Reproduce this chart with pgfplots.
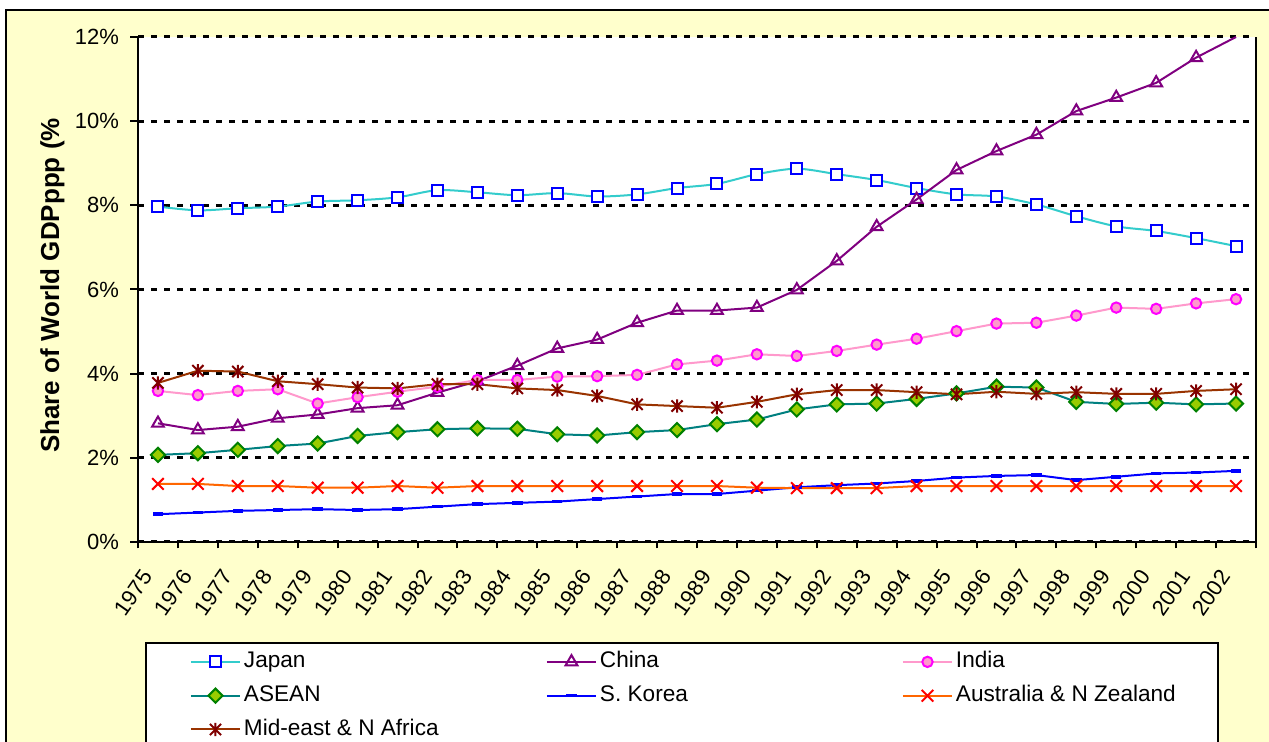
\documentclass[border=0pt]{standalone}
\usepackage{pgfplots}
\pgfplotsset{compat=1.18}
\usepackage{pgfplotstable}
\usepackage{fontspec}
\setmainfont{Liberation Sans}
\definecolor{bgy}{HTML}{FFFFCC}
\definecolor{jpline}{HTML}{33CCCC}
\definecolor{jpmark}{HTML}{0000FF}
\definecolor{cncol}{HTML}{800080}
\definecolor{inline}{HTML}{FF99CC}
\definecolor{inmark}{HTML}{FF00FF}
\definecolor{asline}{HTML}{008080}
\definecolor{asfill}{HTML}{99CC00}
\definecolor{asdraw}{HTML}{008000}
\definecolor{krcol}{HTML}{0000FF}
\definecolor{auline}{HTML}{FF6600}
\definecolor{aumark}{HTML}{FF0000}
\definecolor{meline}{HTML}{993300}
\definecolor{memark}{HTML}{800000}

\pgfdeclareplotmark{xstar}{%
  \pgfpathmoveto{\pgfqpoint{0pt}{\pgfplotmarksize}}%
  \pgfpathlineto{\pgfqpoint{0pt}{-\pgfplotmarksize}}%
  \pgfpathmoveto{\pgfqpoint{-0.85\pgfplotmarksize}{0.85\pgfplotmarksize}}%
  \pgfpathlineto{\pgfqpoint{0.85\pgfplotmarksize}{-0.85\pgfplotmarksize}}%
  \pgfpathmoveto{\pgfqpoint{-0.85\pgfplotmarksize}{-0.85\pgfplotmarksize}}%
  \pgfpathlineto{\pgfqpoint{0.85\pgfplotmarksize}{0.85\pgfplotmarksize}}%
  \pgfusepathqstroke}
\pgfdeclareplotmark{bigx}{%
  \pgfpathmoveto{\pgfqpoint{-\pgfplotmarksize}{\pgfplotmarksize}}%
  \pgfpathlineto{\pgfqpoint{\pgfplotmarksize}{-\pgfplotmarksize}}%
  \pgfpathmoveto{\pgfqpoint{-\pgfplotmarksize}{-\pgfplotmarksize}}%
  \pgfpathlineto{\pgfqpoint{\pgfplotmarksize}{\pgfplotmarksize}}%
  \pgfusepathqstroke}

\pgfplotstableread{
x jp cn in as kr au me
0 7.97 2.82 3.59 2.07 0.66 1.38 3.78
1 7.88 2.66 3.49 2.11 0.70 1.38 4.07
2 7.93 2.74 3.59 2.19 0.74 1.33 4.05
3 7.97 2.94 3.63 2.28 0.76 1.33 3.82
4 8.09 3.03 3.29 2.34 0.78 1.29 3.75
5 8.12 3.18 3.44 2.52 0.76 1.29 3.67
6 8.19 3.25 3.57 2.61 0.78 1.33 3.65
7 8.36 3.55 3.69 2.68 0.84 1.29 3.75
8 8.31 3.82 3.85 2.70 0.90 1.33 3.75
9 8.24 4.19 3.85 2.69 0.93 1.33 3.65
10 8.29 4.60 3.93 2.56 0.96 1.33 3.61
11 8.21 4.81 3.94 2.53 1.02 1.33 3.47
12 8.26 5.21 3.97 2.61 1.08 1.33 3.27
13 8.41 5.50 4.22 2.66 1.14 1.33 3.23
14 8.51 5.50 4.31 2.80 1.14 1.33 3.19
15 8.74 5.57 4.46 2.91 1.22 1.29 3.33
16 8.87 5.99 4.42 3.15 1.30 1.28 3.51
17 8.74 6.68 4.54 3.27 1.35 1.28 3.61
18 8.60 7.49 4.69 3.29 1.39 1.28 3.61
19 8.41 8.14 4.83 3.40 1.45 1.33 3.56
20 8.26 8.84 5.01 3.53 1.53 1.33 3.51
21 8.21 9.29 5.19 3.69 1.57 1.33 3.57
22 8.02 9.68 5.21 3.67 1.59 1.33 3.52
23 7.74 10.24 5.38 3.33 1.47 1.33 3.56
24 7.50 10.56 5.57 3.28 1.55 1.33 3.52
25 7.39 10.91 5.54 3.31 1.63 1.33 3.52
26 7.22 11.51 5.67 3.27 1.65 1.33 3.59
27 7.03 12.00 5.77 3.29 1.69 1.33 3.63
}\datatable

\begin{document}
\begin{tikzpicture}
\path[use as bounding box] (0,0) rectangle (634.5pt,371pt);
\clip (0,0) rectangle (634.5pt,371pt);
\fill[white] (0,0) rectangle (634.5pt,371pt);
\filldraw[fill=bgy, draw=black, line width=1pt] (3pt,-10pt) rectangle (650pt,366pt);
\begin{axis}[
  at={(69pt,100pt)}, anchor=south west, scale only axis,
  width=559pt, height=252.5pt,
  xmin=-0.5, xmax=27.5, ymin=0, ymax=12,
  clip=false,
  axis x line*=bottom, axis y line*=left,
  axis line style={-, black, line width=1pt},
  axis background/.style={fill=white},
  ytick={0,2,...,12},
  yticklabel={\pgfmathprintnumber{\tick}\%},
  xtick={0,1,...,27},
  xticklabels={},
  major x tick style={draw=none},
  minor xtick={-0.5,0.5,...,27.5},
  minor tick length=3.25pt, major tick length=4pt, tick align=outside,
  tick style={black, line width=1pt},
  ymajorgrids,
  major grid style={black, line width=1.5pt, dash pattern=on 3pt off 3.5pt},
  tick label style={font=\fontsize{11}{13}\selectfont},
  /pgf/number format/assume math mode=true,
  yticklabel style={xshift=-2pt},
  legend columns=3,
  legend cell align=left,
  legend style={at={(axis description cs:0.00626,-0.198)}, anchor=north west,
    draw=black, line width=1pt, fill=white, inner xsep=22pt, inner ysep=4pt,
    font=\fontsize{11.3}{13}\selectfont, row sep=6pt,
    nodes={inner sep=0pt, text height=8.3pt, text depth=2.6pt, anchor=west},
    /tikz/every odd column/.append style={column sep=1.5pt}},
  legend image code/.code={\draw[mark repeat=2,mark phase=2] plot coordinates {(0pt,0pt)(12.25pt,0pt)(24.5pt,0pt)};},
]
\addplot[color=jpline, line width=1pt, smooth, tension=0.5, mark=square*, mark size=2.75pt,
  mark options={draw=jpmark, fill=white, line width=1pt, solid}] table[x=x,y=jp]{\datatable};
\addlegendentry{\makebox[151pt][l]{Japan}}
\addplot[color=cncol, line width=1pt, mark=triangle, mark size=3.4pt, mark indices={1,...,27},
  mark options={draw=cncol, line width=1pt, solid},
  legend image code/.code={\draw[mark indices={2}] plot coordinates {(0pt,0pt)(12.25pt,0pt)(24.5pt,0pt)};}] table[x=x,y=cn]{\datatable};
\addlegendentry{\makebox[151pt][l]{China}}
\addplot[color=inline, line width=1pt, mark=*, mark size=2.6pt,
  mark options={draw=inmark, fill=inline, line width=1pt, solid}] table[x=x,y=in]{\datatable};
\addlegendentry{\makebox[109pt][l]{India}}
\addplot[color=asline, line width=1pt, mark=square*, mark size=2.5pt,
  mark options={draw=asdraw, fill=asfill, line width=1pt, rotate=45, solid}] table[x=x,y=as]{\datatable};
\addlegendentry{\makebox[151pt][l]{ASEAN}}
\addplot[color=krcol, line width=1pt, mark=-, mark size=2.6pt,
  mark options={draw=krcol, line width=1.8pt, solid}] table[x=x,y=kr]{\datatable};
\addlegendentry{\makebox[151pt][l]{S. Korea}}
\addplot[color=auline, line width=1pt, mark=bigx, mark size=2.9pt,
  mark options={draw=aumark, line width=1pt, solid}] table[x=x,y=au]{\datatable};
\addlegendentry{\makebox[109pt][l]{Australia \& N Zealand}}
\addplot[color=meline, line width=1pt, mark=xstar, mark size=3.3pt,
  mark options={draw=memark, line width=1pt, solid}] table[x=x,y=me]{\datatable};
\addlegendentry{\makebox[151pt][l]{Mid-east \& N Africa}}
\draw[black, line width=1pt] (rel axis cs:1,0) -- (rel axis cs:1,1);
\pgfplotsinvokeforeach{0,...,27}{%
  \node[rotate=55, anchor=east, inner sep=0pt, font=\fontsize{11}{13}\selectfont]
    at ([shift={(-5.15pt,-15.15pt)}]axis cs:#1,0) {\the\numexpr#1+1975\relax};
}
\end{axis}
\node[rotate=90, anchor=base, inner sep=0pt, font=\bfseries\fontsize{13}{15}\selectfont] at (29.5pt,228.25pt) {Share of World GDPppp (\%};
\end{tikzpicture}
\end{document}
